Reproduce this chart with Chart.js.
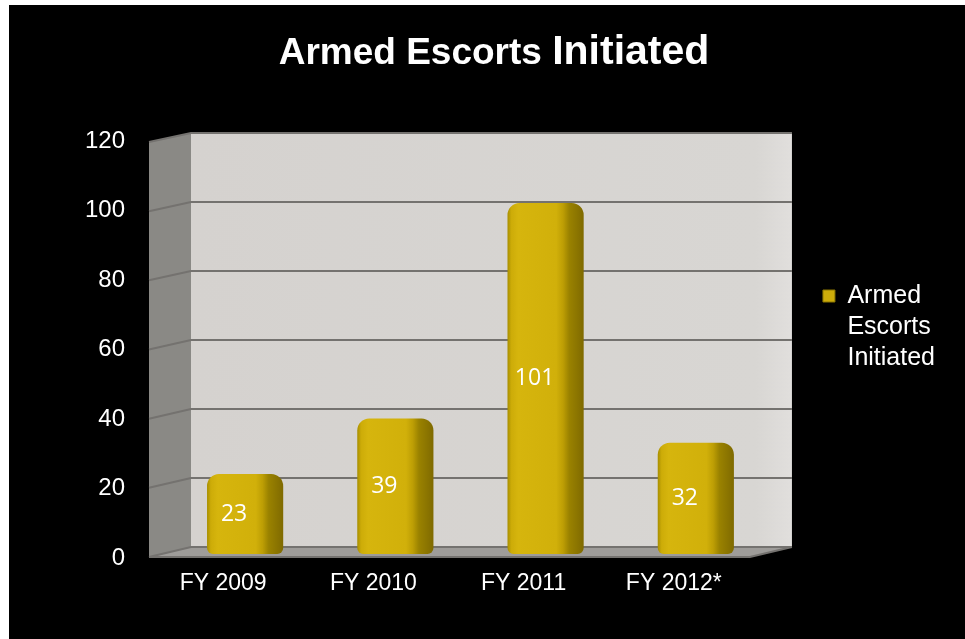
<!DOCTYPE html>
<html>
<head>
<meta charset="utf-8">
<script src="https://cdn.jsdelivr.net/npm/chart.js@4.4.1/dist/chart.umd.min.js"></script>
<style>
  html, body { margin: 0; background: #fff; }
  #escorts { position: absolute; left: 9px; top: 5px; background: #000; }
</style>
</head>
<body>
<canvas id="escorts" width="956" height="634"></canvas>
<script>
const fiscalYears = ['FY 2009', 'FY 2010', 'FY 2011', 'FY 2012*'];
const escortsInitiated = [23, 39, 101, 32];
const yTicks = [0, 20, 40, 60, 80, 100, 120];
const seriesName = ['Armed', 'Escorts', 'Initiated'];
const titleParts = ['Armed Escorts ', 'Initiated'];

const GOLD = '#cdac0a';
const DEPTH = 21;

// gold bar shading, left highlight to dark right side
function barFill(context) {
  const chart = context.chart;
  if (!chart.chartArea) return GOLD;
  const cx = chart.scales.x.getPixelForValue(context.dataIndex);
  const half = 38;
  const g = chart.ctx.createLinearGradient(cx - half, 0, cx + half, 0);
  g.addColorStop(0, '#a88f00');
  g.addColorStop(0.05, '#cdac08');
  g.addColorStop(0.14, '#d6b50d');
  g.addColorStop(0.64, '#d1b00a');
  g.addColorStop(0.73, '#bd9e04');
  g.addColorStop(0.81, '#9a8200');
  g.addColorStop(1, '#7f6a00');
  return g;
}

// 3D walls and floor behind the bars
const wallBox = {
  id: 'wallBox',
  beforeDatasetsDraw(chart) {
    const {ctx, chartArea: a, scales: {y}} = chart;
    const top = y.max;
    const back = v => y.getPixelForValue(v) - 7 + 3 * v / top;
    const front = v => y.getPixelForValue(v) + 3 + 2 * v / top;
    const bl = a.left + DEPTH, br = a.right + DEPTH;
    const fl = a.left - DEPTH, fr = a.right - DEPTH;
    ctx.save();

    // back wall
    const wall = ctx.createLinearGradient(bl, 0, br, 0);
    wall.addColorStop(0, '#d5d2cf');
    wall.addColorStop(0.94, '#d8d6d3');
    wall.addColorStop(1, '#e1dfdd');
    ctx.fillStyle = wall;
    ctx.fillRect(bl, back(top), br - bl, back(0) - back(top));

    // side wall
    ctx.fillStyle = '#8a8985';
    ctx.beginPath();
    ctx.moveTo(fl, front(top));
    ctx.lineTo(bl, back(top));
    ctx.lineTo(bl, back(0));
    ctx.lineTo(fl, front(0));
    ctx.closePath();
    ctx.fill();

    // floor
    ctx.fillStyle = '#9e9c99';
    ctx.beginPath();
    ctx.moveTo(fl, front(0));
    ctx.lineTo(bl, back(0));
    ctx.lineTo(br, back(0));
    ctx.lineTo(fr, front(0));
    ctx.closePath();
    ctx.fill();

    // grid lines
    ctx.strokeStyle = '#74726f';
    ctx.lineWidth = 2;
    yTicks.forEach(v => {
      ctx.beginPath();
      ctx.moveTo(fl, front(v));
      ctx.lineTo(bl, back(v));
      ctx.lineTo(br, back(v));
      ctx.stroke();
    });
    ctx.beginPath();
    ctx.moveTo(fl, front(0));
    ctx.lineTo(fr, front(0));
    ctx.lineTo(br, back(0));
    ctx.stroke();
    ctx.restore();
  }
};

// value written inside each bar
const barValues = {
  id: 'barValues',
  afterDatasetsDraw(chart) {
    const {ctx} = chart;
    const meta = chart.getDatasetMeta(0);
    ctx.save();
    ctx.font = '23px "Open Sans"';
    ctx.fillStyle = '#fff';
    ctx.textAlign = 'center';
    ctx.textBaseline = 'middle';
    meta.data.forEach((bar, i) => {
      ctx.fillText(String(escortsInitiated[i]), bar.x - 11, (bar.y + bar.base) / 2);
    });
    ctx.restore();
  }
};

// heading, last word set a little larger
const heading = {
  id: 'heading',
  afterDraw(chart) {
    const {ctx} = chart;
    const fonts = ['bold 37px "Liberation Sans"', 'bold 41px "Liberation Sans"'];
    ctx.save();
    ctx.fillStyle = '#fff';
    ctx.textBaseline = 'alphabetic';
    const widths = titleParts.map((t, i) => {
      ctx.font = fonts[i];
      return ctx.measureText(t).width;
    });
    let x = 485 - (widths[0] + widths[1]) / 2;
    titleParts.forEach((t, i) => {
      ctx.font = fonts[i];
      ctx.fillText(t, x, 59);
      x += widths[i];
    });
    ctx.restore();
  }
};

new Chart(document.getElementById('escorts'), {
  type: 'bar',
  data: {
    labels: fiscalYears,
    datasets: [{
      label: seriesName.join(' '),
      data: escortsInitiated,
      backgroundColor: barFill,
      borderWidth: 0,
      borderSkipped: false,
      borderRadius: {topLeft: 12, topRight: 12, bottomLeft: 6, bottomRight: 6},
      barPercentage: 0.507,
      categoryPercentage: 1
    }]
  },
  options: {
    responsive: false,
    animation: false,
    layout: {padding: {top: 132, left: 0, right: 20, bottom: 0}},
    scales: {
      x: {
        grid: {display: false, drawTicks: false},
        border: {display: false},
        ticks: {
          color: '#fff',
          font: {family: 'Liberation Sans', size: 23},
          padding: 16,
          labelOffset: -22
        },
        afterFit(scale) { scale.height = 85; }
      },
      y: {
        min: yTicks[0],
        max: yTicks[yTicks.length - 1],
        grid: {display: false, drawTicks: false},
        border: {display: false},
        ticks: {
          color: '#fff',
          font: {family: 'Liberation Sans', size: 24},
          padding: 45,
          labelOffset: 4
        },
        afterBuildTicks(scale) { scale.ticks = yTicks.map(v => ({value: v})); },
        afterFit(scale) { scale.width = 161; }
      }
    },
    plugins: {
      title: {display: false},
      tooltip: {enabled: false},
      legend: {
        position: 'right',
        align: 'center',
        fullSize: false,
        maxWidth: 195,
        labels: {
          font: {family: 'Liberation Sans', size: 25, lineHeight: 1.24},
          boxWidth: 12,
          boxHeight: 12,
          padding: 52,
          generateLabels: () => [{
            text: [...seriesName, ''],
            fillStyle: GOLD,
            strokeStyle: '#8c7600',
            lineWidth: 1,
            fontColor: '#fff',
            hidden: false,
            datasetIndex: 0
          }]
        }
      }
    }
  },
  plugins: [wallBox, barValues, heading]
});
</script>
</body>
</html>
